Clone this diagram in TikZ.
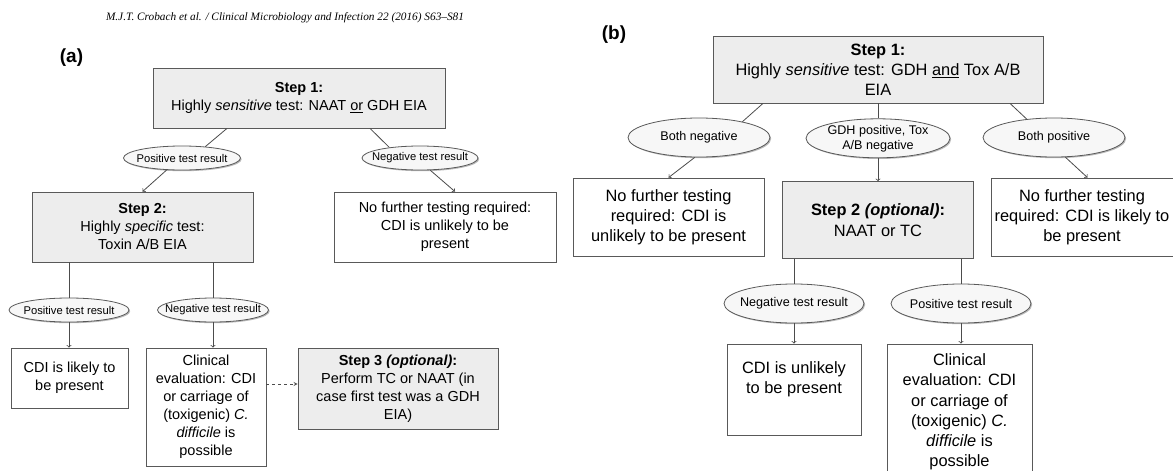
\documentclass[tikz,border=0pt]{standalone}
\usepackage{fontspec}
\setmainfont{Liberation Sans}
\newfontfamily\headfont{Liberation Serif}
\usetikzlibrary{arrows,positioning,shapes.geometric,shadows}
\tikzset{
    stepbox/.style={rectangle,draw=black!65,fill=black!7,line width=0.8pt,align=center},
    endbox/.style={rectangle,draw=black!65,fill=white,line width=0.8pt,align=center},
    result/.style={ellipse,draw=black!65,fill=black!3,line width=0.8pt,align=center,
        inner xsep=-20pt,inner ysep=-2pt,
        drop shadow={shadow xshift=1.2pt,shadow yshift=-1.2pt,fill=black!45,opacity=0.6}},
    pre/.style={->,>=to,line width=0.8pt,draw=black!70},
    link/.style={-,line width=0.8pt,draw=black!70},
    maybe/.style={->,>=stealth,dashed,line width=0.8pt,draw=black!70}
}
\newcommand{\panelAfont}{\fontsize{14.5}{18}\selectfont}
\newcommand{\panelBfont}{\fontsize{16.4}{20.2}\selectfont}
\newcommand{\ovalAfont}{\fontsize{11.2}{13}\selectfont}
\newcommand{\ovalBfont}{\fontsize{12.6}{15}\selectfont}

\begin{document}
\begin{tikzpicture}[x=1pt,y=-1pt]

    \path[use as bounding box,fill=white] (0,0) rectangle (1173,471);

    \node[font=\headfont\itshape\fontsize{11.3}{13}\selectfont] (running head) at (285,18)
        {M.J.T. Crobach et al. / Clinical Microbiology and Infection 22 (2016) S63–S81};

    % panel (a)
    \node[font=\bfseries\fontsize{19}{22}\selectfont] (label a) at (71.5,58) {(a)};

    \node[stepbox,minimum width=292,minimum height=60,font=\panelAfont] (a step 1) at (299,98)
        {\textbf{Step 1:}\\Highly \textit{sensitive} test: NAAT \underline{or} GDH EIA};
    \node[result,minimum width=117,minimum height=24,font=\ovalAfont] (a pos) at (182,158) {Positive test result};
    \node[result,minimum width=116,minimum height=24,font=\ovalAfont] (a neg) at (420,158) {Negative test result};

    \node[stepbox,minimum width=221,minimum height=70,font=\panelAfont] (a step 2) at (142.5,227)
        {\textbf{Step 2:}\\Highly \textit{specific} test:\\Toxin A/B EIA};
    \node[endbox,minimum width=222,minimum height=70,font=\panelAfont] (a none) at (445,227)
        {No further testing required:\\CDI is unlikely to be\\present};

    \node[result,minimum width=120,minimum height=24,font=\ovalAfont] (a pos 2) at (69,310) {Positive test result};
    \node[result,minimum width=111,minimum height=24,font=\ovalAfont] (a neg 2) at (213,310) {Negative test result};

    \node[endbox,minimum width=117,minimum height=60,font=\panelAfont] (a likely) at (69.5,378)
        {CDI is likely to\\be present};
    \node[endbox,minimum width=120,minimum height=118,font=\panelAfont] (a clinical) at (206,407)
        {Clinical\\evaluation: CDI\\or carriage of\\(toxigenic) \textit{C.}\\\textit{difficile} is\\possible};
    \node[stepbox,minimum width=200,minimum height=81,font=\panelAfont] (a step 3) at (398,388.5)
        {\textbf{Step 3 \textit{(optional)}:}\\Perform TC or NAAT (in\\case first test was a GDH\\EIA)};

    \draw[link] ([xshift=-72pt]a step 1.south) -- (a pos.26);
    \draw[pre] (a pos.218) -- (a step 2.north);
    \draw[link] ([xshift=71pt]a step 1.south) -- (a neg.161);
    \draw[pre] (a neg.310) -- ([xshift=10pt]a none.north);
    \draw[link] (a step 2.south -| a pos 2) -- (a pos 2.north);
    \draw[link] (a step 2.south -| a neg 2) -- (a neg 2.north);
    \draw[pre] (a pos 2.south) -- (a pos 2.south |- a likely.north);
    \draw[pre] (a neg 2.south) -- (a neg 2.south |- a clinical.north);
    \draw[maybe] ([yshift=23pt]a clinical.east) -- ([yshift=4.5pt]a step 3.west);

    % panel (b)
    \node[font=\bfseries\fontsize{19}{22}\selectfont] (label b) at (614,35) {(b)};

    \node[stepbox,minimum width=330,minimum height=67,font=\panelBfont] (b step 1) at (878,69.5)
        {\textbf{Step 1:}\\Highly \textit{sensitive} test: GDH \underline{and} Tox A/B\\EIA};
    \node[result,minimum width=142,minimum height=39,font=\ovalBfont] (b neg) at (699,137.5) {Both negative};
    \node[result,minimum width=144,minimum height=39,font=\ovalBfont,below=15pt of b step 1] (b mixed)
        {GDH positive, Tox\\A/B negative};
    \node[result,minimum width=142,minimum height=39,font=\ovalBfont] (b pos) at (1054,137.5) {Both positive};

    \node[endbox,minimum width=191,minimum height=78,font=\panelBfont] (b none) at (668.5,217)
        {No further testing\\required: CDI is\\unlikely to be present};
    \node[stepbox,minimum width=191,minimum height=77,font=\panelBfont,below=23pt of b mixed] (b step 2)
        {\textbf{Step 2 \textit{(optional)}:}\\NAAT or TC};
    \node[endbox,minimum width=182,minimum height=78,font=\panelBfont] (b likely) at (1082,217)
        {No further testing\\required: CDI is likely to\\be present};

    \node[result,minimum width=140,minimum height=39,font=\ovalBfont] (b neg 2) at (794,303.5) {Negative test result};
    \node[result,minimum width=140,minimum height=39,font=\ovalBfont] (b pos 2) at (961,303.5) {Positive test result};

    \node[endbox,minimum width=134,minimum height=91,font=\panelBfont] (b unlikely) at (794,389.5)
        {CDI is unlikely\\to be present\\[3pt]\mbox{}};
    \node[endbox,minimum width=145,minimum height=136,font=\panelBfont] (b clinical) at (959.5,412)
        {Clinical\\evaluation: CDI\\or carriage of\\(toxigenic) \textit{C.}\\\textit{difficile} is\\possible};

    \draw[link] ([xshift=-115pt]b step 1.south) -- (b neg.20);
    \draw[pre] (b neg.258) -- (b none.north);
    \draw[link] (b step 1.south -| b mixed) -- (b mixed.north);
    \draw[pre] (b mixed.south) -- (b step 2.north);
    \draw[link] ([xshift=132pt]b step 1.south) -- (b pos.146);
    \draw[pre] (b pos.300) -- ([xshift=5.5pt]b likely.north);
    \draw[link] (b step 2.south -| b neg 2) -- (b neg 2.north);
    \draw[link] (b step 2.south -| b pos 2) -- (b pos 2.north);
    \draw[pre] (b neg 2.south) -- (b neg 2.south |- b unlikely.north);
    \draw[pre] (b pos 2.south) -- (b pos 2.south |- b clinical.north);

\end{tikzpicture}
\end{document}
